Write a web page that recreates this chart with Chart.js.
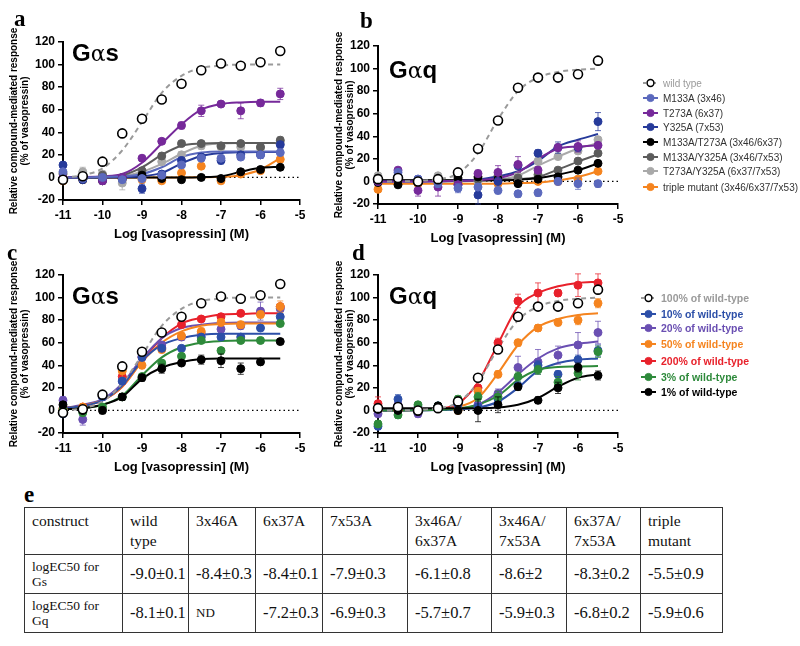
<!DOCTYPE html>
<html>
<head>
<meta charset="utf-8">
<script src="https://cdn.jsdelivr.net/npm/chart.js@4.4.1/dist/chart.umd.min.js"></script>
<style>
body { margin:0; background:#fff; width:800px; height:646px; position:relative; overflow:hidden; font-family:"Liberation Sans", Arial, sans-serif; }
.box { position:absolute; }
.tag { position:absolute; font-family:"Liberation Serif", serif; font-weight:bold; font-size:23px; line-height:1; }
.gl { position:absolute; font-size:24px; font-weight:bold; line-height:1; }
.gl span { font-family:"DejaVu Serif", serif; font-weight:normal; font-size:22px; }
.leg { position:absolute; font-size:10px; white-space:nowrap; display:flex; align-items:center; height:12px; }
.leg svg { margin-right:5px; }
.legb { font-weight:bold; font-size:10.5px; }
table { position:absolute; left:24px; top:507px; width:698px; border-collapse:collapse; table-layout:fixed; font-family:"Liberation Serif", serif; color:#111; }
td { border:1.5px solid #333; padding:0 0 0 7px; vertical-align:middle; }
tr.h td { height:43px; vertical-align:top; padding-top:3px; font-size:15.5px; line-height:20px; }
tr.r td { height:38px; font-size:16.5px; }
tr.r td.lab { font-size:13.5px; line-height:15px; }
tr.r td.nd { font-size:13px; }
</style>
</head>
<body>

<div class="box" style="left:0;top:0;width:310px;height:246px"><canvas id="pa" width="310" height="246"></canvas></div>
<div class="box" style="left:310px;top:0;width:318px;height:250px"><canvas id="pb" width="318" height="250"></canvas></div>
<div class="box" style="left:0;top:245px;width:310px;height:234px"><canvas id="pc" width="310" height="234"></canvas></div>
<div class="box" style="left:310px;top:245px;width:318px;height:234px"><canvas id="pd" width="318" height="234"></canvas></div>

<div class="tag" style="left:14px;top:7px">a</div>
<div class="tag" style="left:360px;top:9px">b</div>
<div class="tag" style="left:7px;top:241px">c</div>
<div class="tag" style="left:352px;top:241px">d</div>
<div class="tag" style="left:24px;top:483px">e</div>

<div class="gl" style="left:72px;top:41px">G<span>α</span>s</div>
<div class="gl" style="left:389px;top:58px">G<span>α</span>q</div>
<div class="gl" style="left:72px;top:284px">G<span>α</span>s</div>
<div class="gl" style="left:389px;top:284px">G<span>α</span>q</div>

<div id="legends"></div>

<table>
<colgroup><col style="width:98px"><col style="width:66px"><col style="width:67px"><col style="width:67px"><col style="width:85px"><col style="width:84px"><col style="width:75px"><col style="width:74px"><col style="width:82px"></colgroup>
<tr class="h"><td>construct</td><td>wild<br>type</td><td>3x46A</td><td>6x37A</td><td>7x53A</td><td>3x46A/<br>6x37A</td><td>3x46A/<br>7x53A</td><td>6x37A/<br>7x53A</td><td>triple<br>mutant</td></tr>
<tr class="r"><td class="lab">logEC50 for<br>Gs</td><td>-9.0±0.1</td><td>-8.4±0.3</td><td>-8.4±0.1</td><td>-7.9±0.3</td><td>-6.1±0.8</td><td>-8.6±2</td><td>-8.3±0.2</td><td>-5.5±0.9</td></tr>
<tr class="r"><td class="lab">logEC50 for<br>Gq</td><td>-8.1±0.1</td><td class="nd">ND</td><td>-7.2±0.3</td><td>-6.9±0.3</td><td>-5.7±0.7</td><td>-5.9±0.3</td><td>-6.8±0.2</td><td>-5.9±0.6</td></tr>
</table>

<script>
// log [vasopressin] (M) for every measured point and for the read-off fit curves
var doses = [-11, -10.5, -10, -9.5, -9, -8.5, -8, -7.5, -7, -6.5, -6, -5.5];
var xTicks = [-11, -10, -9, -8, -7, -6, -5];
var yTicks = [-20, 0, 20, 40, 60, 80, 100, 120];

// wild type (same data in a/c and in b/d)
var wildGs    = [-2, 1, 14, 39, 52, 69, 83, 95, 101, 99, 102, 112];
var wildGsFit = [0, 2, 8, 24, 49, 75, 90, 97, 99, 100, 100, 100];
var wildGq    = [2, 3, 0, 2, 8, 29, 54, 83, 92, 92, 95, 107];
var wildGqFit = [0, 0, 0.5, 2, 7, 25, 55, 80, 92, 97, 99, 100];

// a: mutants, Gs
var aM133A      = [5, -1, 0, -2, -1, 2, 11, 17, 17, 18, 20, 22];
var aM133AFit   = [0, 0, 0.5, 1, 3, 9, 18, 22, 23, 23, 23, 23];
var aT273A      = [0, 0, -3, 0, 17, 32, 46, 59, 65, 59, 66, 74];
var aT273AFit   = [0, 0.3, 1, 3, 13, 30, 47, 60, 65, 66.5, 67, 67];
var aT273AErr   = [1, 1, 3, 1, 2, 2, 3, 5, 2, 7, 3, 5];
var aY325A      = [11, -2, -2, -1, -10, 3, 15, 18, 15, 20, 20, 29];
var aY325AFit   = [0, 0, 0, 0.3, 1, 4, 12.5, 19, 21.5, 22.3, 22.5, 22.5];
var aY325AErr   = [2, 2, 2, 2, 4, 2, 3, 3, 3, 3, 3, 3];
var aMT         = [-2, -2, -3, -1, 2, -1, -2, 0, -1, 5, 7, 9];
var aMTFit      = [0, 0, 0, 0, 0, 0, 0, 0.2, 1, 5, 8.5, 9.5];
var aMY         = [3, 1, 2, 0, 6, 19, 30, 30, 28, 30, 27, 33];
var aMYFit      = [0, 0, 0.5, 2, 9, 20, 28, 30, 30.5, 30.5, 30.5, 30.5];
var aTY         = [4, 5, 3, -5, -1, 14, 20, 28, 27, 27, 26, 31];
var aTYFit      = [0, 0, 0.3, 1, 5, 12, 21, 28, 30, 30.5, 30.5, 30.5];
var aTYErr      = [2, 4, 2, 6, 2, 3, 3, 3, 2, 3, 3, 5];
var aTriple     = [-3, -2, -1, -2, -2, -3, 4, 10, -3, 3, 6, 16];
var aTripleFit  = [0, 0, 0, 0, 0, 0, 0, 0.2, 0.5, 2, 7, 17];

// b: mutants, Gq
var bM133A      = [2, 8, 2, -2, -6, -5, -8, -11, -10, 0, -2, -2];
var bM133AErr   = [2, 3, 3, 3, 4, 3, 3, 3, 3, 3, 5, 3];
var bT273A      = [0, 10, -8, -5, -3, 7, 8, 15, 10, 30, 31, 32];
var bT273AFit   = [0, 0, 0, 0.2, 0.5, 1, 3, 8, 20, 29, 31, 32];
var bT273AErr   = [2, 2, 5, 8, 3, 3, 6, 7, 3, 3, 5, 2];
var bY325A      = [0, 5, 2, 0, -3, -12, 0, 14, 25, 30, 30, 53];
var bY325AFit   = [0, 0, 0, 0.2, 0.5, 1.5, 4.5, 9, 18, 31, 37, 42];
var bY325AErr   = [2, 2, 2, 2, 3, 8, 3, 3, 3, 5, 3, 8];
var bMT         = [-1, -3, -1, 0, 3, 4, 2, -2, 2, 4, 10, 16];
var bMTFit      = [1, 1, 1, 1, 1, 1, 1, 1.5, 3, 6, 10, 16];
var bMY         = [3, 0, 1, 2, 0, 2, 5, 3, 6, 10, 18, 25];
var bMYFit      = [1, 1, 1, 1, 1, 1, 1.5, 2, 4, 10.5, 17.5, 24];
var bTY         = [5, 3, 1, 5, 0, 0, 2, 5, 18, 22, 27, 37];
var bTYFit      = [0, 0, 0, 0, 0, 0.5, 1.5, 5, 14, 22, 29, 34];
var bTriple     = [-7, -2, -2, -2, -1, -2, -2, -1, 0, 0, 2, 9];
var bTripleFit  = [-2, -2, -2, -2, -2, -2, -2, -1.5, -1, 1, 4, 9];

// c: receptor expression levels, Gs
var c10   = [-3, 0, 12, 26, 47, 55, 55, 65, 65, 65, 73, 83];
var c10Fit = [2, 4, 9, 22, 44, 58, 64, 67, 68, 68, 68, 68];
var c20   = [9, -8, 12, 26, 48, 58, 65, 68, 72, 75, 88, 90];
var c20Fit = [2, 5, 10, 24, 46, 64, 73, 76, 77.5, 78, 78, 78];
var c20Err = [3, 5, 3, 3, 5, 3, 3, 3, 3, 3, 8, 4];
var c50   = [1, 3, 13, 35, 40, 54, 66, 70, 78, 76, 85, 92];
var c50Fit = [2, 4, 9, 21, 43, 60, 70, 75, 76.5, 77, 77, 77];
var c50Err = [2, 2, 3, 6, 3, 3, 3, 3, 3, 3, 3, 5];
var c200  = [2, 3, 13, 30, 47, 56, 76, 81, 83, 86, 86, 92];
var c200Fit = [2, 4, 9, 21, 44, 64, 77, 82, 85, 85.5, 86, 86];
var c3    = [1, -2, 3, 12, 30, 42, 48, 62, 53, 62, 62, 77];
var c3Fit = [1, 2, 5, 13, 31, 47, 56, 60, 61.5, 62, 62, 62];
var c1    = [5, 0, 0, 12, 29, 37, 42, 45, 44, 37, 43, 61];
var c1Fit = [1, 2, 5, 12, 28, 38, 43, 45.5, 46, 46, 46, 46];
var c1Err = [2, 2, 3, 3, 3, 4, 2, 4, 6, 5, 2, 2];

// d: receptor expression levels, Gq
var d10   = [-14, 10, 3, 4, 5, 3, 10, 22, 40, 32, 45, 53];
var d10Fit = [0, 0, 0.1, 0.3, 1, 2.5, 7.7, 20, 35, 42, 45, 46];
var d10Err = [3, 4, 3, 2, 2, 3, 3, 3, 4, 3, 4, 5];
var d20   = [-3, 5, -3, 4, 8, 5, 15, 38, 43, 49, 58, 69];
var d20Fit = [0, 0, 0.2, 0.5, 1.5, 5, 16, 32, 46, 55, 59, 61];
var d20Err = [2, 3, 3, 2, 3, 3, 4, 10, 11, 8, 11, 10];
var d50   = [0, 0, 2, 3, 0, 17, 32, 60, 73, 78, 80, 95];
var d50Fit = [0, 0, 0.3, 1, 3, 11, 33, 58, 74, 81, 84.5, 86];
var d50Err = [2, 2, 2, 2, 2, 3, 3, 3, 3, 3, 4, 4];
var d200  = [6, 0, 2, 3, 8, 20, 60, 97, 104, 104, 111, 113];
var d200Fit = [0, 0, 0.5, 1.5, 6, 25, 59, 92, 104, 110, 113, 114];
var d200Err = [6, 2, 2, 2, 3, 3, 4, 6, 9, 3, 10, 8];
var d3    = [-12, -4, 5, 4, 10, 12, 12, 30, 36, 25, 33, 52];
var d3Fit = [0, 0, 0.2, 0.5, 1.5, 5, 13, 27, 36, 38.5, 39, 39.3];
var d3Err = [3, 3, 2, 2, 3, 4, 5, 4, 4, 5, 6, 5];
var d1    = [1, 0, -1, 4, 0, 0, 5, 21, 9, 20, 38, 31];
var d1Fit = [2, 2, 2, 2, 2, 2, 2.5, 5, 11, 21, 29, 32];
var d1Err = [2, 2, 2, 2, 3, 10, 7, 3, 3, 5, 4, 4];

var FONT = '"Liberation Sans", Arial, sans-serif';

var mutantColors = {
    M133A: '#5b69bd', T273A: '#76299a', Y325A: '#263a9a',
    MT: '#000000', MY: '#5c5c5c', TY: '#a9a9a9', triple: '#f5841f'
};
var levelColors = {
    p10: '#2c4fa8', p20: '#6a4fb2', p50: '#f5841f', p200: '#e8212b', p3: '#2e8a3b', p1: '#000000'
};

function pts(arr) {
    return doses.map(function (x, i) { return { x: x, y: arr[i] }; });
}

// draws +/- error whiskers under the points of any dataset that carries an err array
var errorBars = {
    id: 'errorBars',
    beforeDatasetDraw: function (chart, args) {
        var dset = chart.data.datasets[args.index];
        if (!dset.err) return;
        var ctx = chart.ctx, xs = chart.scales.x, ys = chart.scales.y;
        ctx.save();
        ctx.strokeStyle = dset.pointBackgroundColor;
        ctx.globalAlpha = 0.75;
        ctx.lineWidth = 1;
        dset.data.forEach(function (p, i) {
            var e = dset.err[i];
            if (!e) return;
            var px = xs.getPixelForValue(p.x);
            var top = ys.getPixelForValue(p.y + e), bot = ys.getPixelForValue(p.y - e);
            ctx.beginPath();
            ctx.moveTo(px, top); ctx.lineTo(px, bot);
            ctx.moveTo(px - 3, top); ctx.lineTo(px + 3, top);
            ctx.moveTo(px - 3, bot); ctx.lineTo(px + 3, bot);
            ctx.stroke();
        });
        ctx.restore();
    }
};

function makePanel(id, padLeft, yWidth, padTop, series, wild, wildFit) {
    var ds = [];
    // dotted zero line
    ds.push({ data: [{ x: -11, y: 0 }, { x: -5, y: 0 }], showLine: true, borderColor: '#000',
        borderWidth: 1.3, borderDash: [1.5, 3], pointRadius: 0, order: 6 });
    // wild type
    ds.push({ data: pts(wild), showLine: false, pointRadius: 4.5, pointBackgroundColor: '#fff',
        pointBorderColor: '#000', pointBorderWidth: 1.6, order: 0, clip: false });
    ds.push({ data: pts(wildFit), showLine: true, borderColor: '#9a9a9a', borderWidth: 2,
        borderDash: [5, 4], pointRadius: 0, cubicInterpolationMode: 'monotone', order: 2 });
    series.forEach(function (s) {
        ds.push({ data: pts(s.pts), err: s.err || null, showLine: false, pointRadius: 4,
            pointBackgroundColor: s.color, pointBorderColor: s.color, pointBorderWidth: 1, order: 1, clip: false });
        if (s.fit) {
            ds.push({ data: pts(s.fit), showLine: true, borderColor: s.color, borderWidth: 2,
                pointRadius: 0, cubicInterpolationMode: 'monotone', order: 3 });
        }
    });

    new Chart(document.getElementById(id), {
        type: 'scatter',
        data: { datasets: ds },
        plugins: [errorBars],
        options: {
            responsive: false,
            animation: false,
            events: [],
            layout: { padding: { top: padTop, right: 10, left: padLeft, bottom: 0 } },
            plugins: { legend: { display: false }, tooltip: { enabled: false } },
            scales: {
                x: {
                    type: 'linear', min: -11, max: -5,
                    afterBuildTicks: function (s) { s.ticks = xTicks.map(function (v) { return { value: v }; }); },
                    afterFit: function (s) { s.height = 46; },
                    ticks: { color: '#000', padding: 3, font: { family: FONT, size: 12, weight: 'bold' } },
                    grid: { drawOnChartArea: false, drawTicks: true, tickLength: 5, color: '#000', lineWidth: 1.5 },
                    border: { color: '#000', width: 2 },
                    title: { display: true, text: 'Log [vasopressin] (M)', color: '#000',
                        font: { family: FONT, size: 13, weight: 'bold' }, padding: { top: 4, bottom: 4 } }
                },
                y: {
                    type: 'linear', min: -20, max: 120,
                    afterBuildTicks: function (s) { s.ticks = yTicks.map(function (v) { return { value: v }; }); },
                    afterFit: function (s) { s.width = yWidth; },
                    ticks: { color: '#000', padding: 3, font: { family: FONT, size: 12, weight: 'bold' } },
                    grid: { drawOnChartArea: false, drawTicks: true, tickLength: 5, color: '#000', lineWidth: 1.5 },
                    border: { color: '#000', width: 2 },
                    title: { display: true, text: ['Relative compound-mediated response', '(% of vasopressin)'],
                        color: '#000', font: { family: FONT, size: 10, weight: 'bold', lineHeight: 1.15 },
                        padding: { top: 2, bottom: 2 } }
                }
            }
        }
    });
}

var C = mutantColors, L = levelColors;
makePanel('pa', 6, 57, 42, [
    { pts: aM133A, fit: aM133AFit, color: C.M133A },
    { pts: aT273A, fit: aT273AFit, err: aT273AErr, color: C.T273A },
    { pts: aY325A, fit: aY325AFit, err: aY325AErr, color: C.Y325A },
    { pts: aMT, fit: aMTFit, color: C.MT },
    { pts: aMY, fit: aMYFit, color: C.MY },
    { pts: aTY, fit: aTYFit, err: aTYErr, color: C.TY },
    { pts: aTriple, fit: aTripleFit, color: C.triple }
], wildGs, wildGsFit);

makePanel('pb', 21, 47, 46, [
    { pts: bM133A, fit: null, err: bM133AErr, color: C.M133A },
    { pts: bT273A, fit: bT273AFit, err: bT273AErr, color: C.T273A },
    { pts: bY325A, fit: bY325AFit, err: bY325AErr, color: C.Y325A },
    { pts: bMT, fit: bMTFit, color: C.MT },
    { pts: bMY, fit: bMYFit, color: C.MY },
    { pts: bTY, fit: bTYFit, color: C.TY },
    { pts: bTriple, fit: bTripleFit, color: C.triple }
], wildGq, wildGqFit);

makePanel('pc', 6, 57, 30, [
    { pts: c1, fit: c1Fit, err: c1Err, color: L.p1 },
    { pts: c3, fit: c3Fit, color: L.p3 },
    { pts: c10, fit: c10Fit, color: L.p10 },
    { pts: c50, fit: c50Fit, err: c50Err, color: L.p50 },
    { pts: c20, fit: c20Fit, err: c20Err, color: L.p20 },
    { pts: c200, fit: c200Fit, color: L.p200 }
], wildGs, wildGsFit);

makePanel('pd', 21, 47, 30, [
    { pts: d1, fit: d1Fit, err: d1Err, color: L.p1 },
    { pts: d3, fit: d3Fit, err: d3Err, color: L.p3 },
    { pts: d10, fit: d10Fit, err: d10Err, color: L.p10 },
    { pts: d20, fit: d20Fit, err: d20Err, color: L.p20 },
    { pts: d50, fit: d50Fit, err: d50Err, color: L.p50 },
    { pts: d200, fit: d200Fit, err: d200Err, color: L.p200 }
], wildGq, wildGqFit);

// legends
var topLegend = [
    { t: 'wild type', c: '#000', open: true, tc: '#9a9a9a', line: '#9a9a9a', y: 83 },
    { t: 'M133A (3x46)', c: C.M133A, tc: '#333', y: 98 },
    { t: 'T273A (6x37)', c: C.T273A, tc: '#333', y: 113 },
    { t: 'Y325A (7x53)', c: C.Y325A, tc: '#333', y: 127 },
    { t: 'M133A/T273A (3x46/6x37)', c: C.MT, tc: '#333', y: 142 },
    { t: 'M133A/Y325A (3x46/7x53)', c: C.MY, tc: '#333', y: 157 },
    { t: 'T273A/Y325A (6x37/7x53)', c: C.TY, tc: '#333', y: 171 },
    { t: 'triple mutant (3x46/6x37/7x53)', c: C.triple, tc: '#333', y: 187 }
];
var botLegend = [
    { t: '100% of wild-type', c: '#000', open: true, tc: '#9a9a9a', line: '#9a9a9a', y: 298, b: true },
    { t: '10% of wild-type', c: L.p10, tc: L.p10, y: 314, b: true },
    { t: '20% of wild-type', c: L.p20, tc: L.p20, y: 328, b: true },
    { t: '50% of wild-type', c: L.p50, tc: L.p50, y: 344, b: true },
    { t: '200% of wild-type', c: L.p200, tc: L.p200, y: 361, b: true },
    { t: '3% of wild-type', c: L.p3, tc: L.p3, y: 377, b: true },
    { t: '1% of wild-type', c: L.p1, tc: L.p1, y: 392, b: true }
];
var holder = document.getElementById('legends');
function addLegend(items, x) {
    items.forEach(function (it) {
        var d = document.createElement('div');
        d.className = 'leg' + (it.b ? ' legb' : '');
        d.style.left = x + 'px';
        d.style.top = (it.y - 6) + 'px';
        var lc = it.line || it.c;
        var fill = it.open ? '#fff' : it.c;
        d.innerHTML = '<svg width="15" height="10"><line x1="0" y1="5" x2="15" y2="5" stroke="' + lc +
            '" stroke-width="2"' + (it.open ? ' stroke-dasharray="3,2"' : '') + '/><circle cx="7.5" cy="5" r="' +
            (it.open ? 3.4 : 3.6) + '" fill="' + fill + '" stroke="' + it.c + '" stroke-width="' + (it.open ? 1.5 : 1) +
            '"/></svg><span style="color:' + it.tc + '">' + it.t + '</span>';
        holder.appendChild(d);
    });
}
addLegend(topLegend, 643);
addLegend(botLegend, 641);
</script>
</body>
</html>
